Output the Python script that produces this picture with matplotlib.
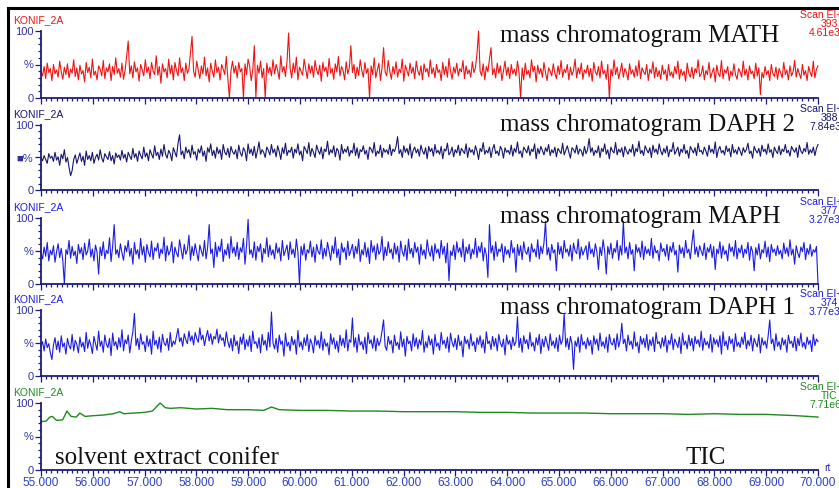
import numpy as np
import matplotlib
matplotlib.use("Agg")
import matplotlib.pyplot as plt
from matplotlib.lines import Line2D
from matplotlib.ticker import MultipleLocator, FixedLocator

# relative intensity (%) per scan (55.000 - 70.000 min)
math_vals = [
    40,33,47,29,52,38,44,26,50,36,42,31,55,39,28,46,35,51,30,43,37,57,32,45,27,
    49,36,41,24,53,38,46,30,58,34,40,27,48,43,33,56,29,45,39,51,26,47,35,60,37,
    44,31,52,28,41,62,85,36,48,30,54,39,45,25,50,42,33,57,38,46,29,53,40,35,63,
    34,47,22,51,39,44,30,58,36,49,27,53,41,33,60,38,45,26,52,37,43,68,92,40,31,
    55,42,29,48,36,61,33,45,24,52,40,31,57,38,46,27,50,43,35,62,29,0,41,55,37,
    48,30,53,39,44,0,51,35,58,47,26,42,78,1,49,37,55,30,44,0,52,38,46,33,57,
    36,50,41,28,63,39,47,32,55,97,44,30,52,38,61,27,46,40,34,58,43,29,51,37,48,
    31,56,42,35,49,25,53,40,46,32,59,37,44,28,51,39,62,33,47,41,27,54,36,45,78,
    38,50,29,46,34,57,41,31,53,37,44,0,48,35,60,30,42,52,26,45,75,39,33,56,40,
    28,47,36,54,31,43,38,58,25,49,41,33,52,37,46,29,55,40,34,48,27,51,39,44,32,
    57,36,45,30,50,38,42,26,53,35,47,31,59,40,28,46,37,52,33,44,39,56,29,48,36,
    42,31,54,38,45,66,100,40,33,51,27,47,39,58,75,35,44,30,52,37,48,26,41,55,34,
    46,29,50,36,43,33,55,38,0,45,27,52,35,41,30,57,39,47,24,49,36,44,31,53,38,
    26,45,40,33,51,37,29,48,35,56,31,43,38,50,27,46,34,41,58,30,45,36,52,28,42,
    37,49,32,44,25,53,39,34,47,30,55,36,41,28,50,0,43,33,57,35,46,29,40,52,31,
    44,38,27,51,36,42,31,48,33,56,29,45,39,35,50,26,43,37,54,30,46,32,41,28,49,
    35,42,26,50,33,39,30,47,36,55,28,43,34,40,25,52,37,31,46,29,44,38,57,32,36,
    48,27,41,35,53,30,38,45,24,49,36,32,56,29,42,37,47,26,40,33,51,35,28,44,39,
    31,55,34,43,27,48,36,40,29,52,33,45,5,38,30,47,35,41,26,50,37,32,46,28,44,
    38,30,53,35,42,27,48,33,39,56,31,44,36,29,50,34,41,26,47,38,32,55,30,43,48]

daph2_vals = [
    50,45,53,47,41,56,49,52,44,58,46,51,38,55,48,62,43,50,35,22,30,47,54,41,49,
    57,44,52,38,60,47,53,45,58,41,50,55,46,62,49,43,56,51,47,59,45,53,40,57,50,
    54,46,61,49,55,43,58,52,47,64,50,56,44,60,53,48,66,51,57,45,62,55,49,68,53,
    58,47,63,52,70,55,49,61,56,45,65,58,51,72,85,54,60,48,66,57,62,50,69,55,59,
    46,63,57,68,52,60,44,65,58,71,53,61,49,66,56,62,47,70,58,54,64,50,67,59,55,
    62,48,69,57,52,65,60,45,71,56,63,53,67,49,60,74,55,62,58,50,66,61,54,70,57,
    63,51,68,59,47,65,56,72,53,61,58,66,49,63,57,71,54,60,45,67,62,56,73,52,64,
    58,50,69,61,55,66,48,63,59,75,54,62,57,68,51,64,60,46,70,56,63,58,67,52,61,
    57,72,53,65,49,62,59,68,55,61,47,66,63,57,73,52,60,56,69,50,64,58,62,55,70,
    53,63,59,67,82,56,62,50,68,58,64,54,71,49,61,66,57,63,52,69,60,55,65,48,67,
    59,64,52,70,57,61,55,67,48,63,60,72,54,58,66,51,62,57,69,53,64,60,56,71,50,
    65,58,62,54,68,60,47,64,59,73,55,61,57,66,50,63,70,56,60,53,67,62,49,65,58,
    61,55,69,52,64,58,74,56,60,50,66,62,57,68,53,63,59,71,48,64,56,67,61,54,65,
    59,70,53,62,57,66,51,64,60,56,72,54,61,68,58,49,65,62,57,69,55,63,60,52,67,
    56,62,79,58,65,53,61,57,68,50,64,59,71,55,62,48,66,60,57,73,54,63,58,65,51,
    67,60,55,63,58,70,52,64,59,75,56,61,53,68,62,57,65,50,69,58,63,55,71,60,54,
    64,57,68,51,62,59,73,55,60,66,52,63,58,70,56,61,49,67,62,57,65,53,72,59,61,
    55,66,60,52,69,58,63,56,74,50,62,67,57,61,54,68,59,64,51,70,57,62,55,66,60,
    53,65,58,62,72,56,60,49,67,61,57,64,52,69,59,63,55,71,58,62,50,66,60,56,68,
    54,63,59,70,57,61,52,67,62,58,65,50,69,60,56,64,59,73,55,62,57,66,53,64,70]

maph_vals = [
    47,38,56,42,63,35,51,44,58,33,49,61,40,54,36,0,52,45,66,39,57,43,50,31,60,
    46,55,37,62,44,50,68,41,53,35,59,48,15,56,43,64,38,51,46,70,34,57,90,45,52,
    40,61,47,36,58,49,66,42,54,30,63,45,52,38,69,44,57,33,60,48,41,65,37,55,50,
    62,39,53,46,71,35,58,44,50,64,32,56,47,41,67,53,38,60,45,52,74,36,57,43,61,
    48,35,59,50,42,66,38,55,90,46,53,25,63,41,57,49,68,34,52,44,61,39,72,47,56,
    42,63,37,55,48,69,30,58,98,45,52,40,64,36,57,49,61,33,54,46,70,41,59,44,52,
    38,62,47,55,35,66,43,51,59,37,64,45,53,40,68,48,0,57,44,61,36,52,47,65,41,
    56,33,60,49,45,67,38,54,42,63,50,36,58,46,71,40,53,29,62,48,55,37,65,43,51,
    60,39,57,46,68,34,52,44,63,41,55,31,66,48,58,37,61,45,50,72,36,56,43,64,47,
    53,38,62,45,57,33,65,49,42,59,36,68,46,54,40,63,48,56,30,60,44,52,38,67,50,
    42,58,35,61,47,53,39,66,45,57,32,62,5,50,43,59,37,64,48,55,41,68,34,56,46,
    60,38,53,45,69,40,57,48,63,35,55,44,10,90,47,58,36,64,42,53,49,61,33,57,45,
    52,40,66,47,55,18,60,43,58,37,64,49,45,56,34,61,48,53,41,67,38,57,46,62,95,
    44,55,36,60,47,52,20,63,45,57,39,66,48,53,42,59,35,62,50,46,68,38,56,44,51,
    58,37,64,46,53,41,61,49,22,56,43,67,50,15,57,45,62,39,54,48,66,36,58,44,95,
    47,56,38,63,45,52,20,60,48,55,41,65,37,57,46,53,43,69,39,58,47,51,35,62,49,
    54,42,60,36,57,48,63,44,51,18,59,46,55,40,66,47,53,38,61,82,45,56,41,58,50,
    43,62,37,55,48,60,40,57,22,53,46,64,39,58,45,51,35,61,49,56,42,66,38,54,47,
    59,40,53,46,63,36,57,49,20,55,44,61,38,52,47,65,41,56,34,60,48,53,43,58,45,
    51,38,62,46,55,42,67,44,53,30,58,47,40,56,49,63,37,54,45,60,42,52,48,57,0]

daph1_vals = [
    45,52,38,56,43,49,35,25,47,58,40,53,36,61,44,50,33,57,46,41,63,38,54,48,35,
    59,44,51,37,66,42,55,47,34,60,49,39,68,45,53,36,62,48,43,57,31,65,46,52,40,
    58,44,70,38,55,49,62,35,53,67,95,46,57,40,64,48,52,37,61,45,56,33,68,47,54,
    41,59,36,63,50,46,57,39,66,44,53,48,60,72,52,58,45,64,55,49,68,53,61,47,66,
    57,51,73,55,62,46,59,69,53,64,48,60,56,71,50,63,54,58,45,67,52,43,57,38,62,
    46,53,34,59,48,64,40,55,45,61,37,68,49,52,42,58,35,63,47,54,39,66,44,97,50,
    41,57,36,62,48,53,30,65,45,51,38,60,47,55,33,69,44,52,40,58,46,63,37,56,49,
    35,61,47,54,42,67,39,56,45,50,32,64,48,58,41,53,36,62,46,57,43,70,38,55,51,
    88,44,58,36,63,47,52,40,59,34,66,49,55,42,61,38,57,46,53,68,85,45,39,60,48,
    54,35,62,46,51,40,67,44,56,30,60,49,53,38,64,45,58,41,55,47,69,36,52,43,61,
    47,56,33,63,45,50,39,66,48,54,42,59,36,65,51,44,57,40,62,46,53,29,60,49,55,
    41,64,46,52,37,58,48,61,43,55,35,67,49,53,40,60,45,57,38,63,50,44,56,32,62,
    48,54,40,59,46,52,90,43,57,36,61,49,55,41,66,45,51,38,58,47,63,34,56,44,60,
    50,39,64,46,53,42,58,37,62,48,55,95,44,57,40,60,49,10,53,45,59,36,63,47,52,
    41,58,46,54,33,61,48,56,39,65,45,52,42,59,36,63,50,47,57,40,64,44,55,80,49,
    56,38,62,47,53,41,67,45,51,35,60,48,57,43,63,39,55,46,59,37,66,49,52,42,58,
    45,61,36,54,48,64,40,56,50,43,59,34,65,47,53,41,62,46,57,38,60,49,55,44,68,
    39,57,47,52,42,63,36,58,48,55,44,61,33,67,46,53,40,60,49,56,37,64,45,51,43,
    59,48,66,41,54,46,62,38,57,50,44,63,35,58,47,53,42,61,85,49,56,39,64,45,52,
    40,58,47,55,36,62,49,53,43,60,38,57,46,65,44,51,41,59,48,54,37,63,46,56,52]

tic_rt = [55.0, 55.1, 55.17, 55.22, 55.3, 55.42, 55.5, 55.58, 55.68, 55.75, 55.85,
          56.0, 56.2, 56.4, 56.52, 56.6, 56.8, 57.0, 57.15, 57.3, 57.4, 57.5,
          57.7, 58.0, 58.3, 58.6, 59.0, 59.3, 59.45, 59.6, 60.0, 60.5, 61.0,
          61.5, 62.0, 62.5, 63.0, 63.5, 64.0, 64.5, 65.0, 65.5, 66.0, 66.5,
          67.0, 67.5, 68.0, 68.5, 69.0, 69.3, 69.6, 70.0]
tic_vals = [72, 73, 79, 80, 74, 75, 88, 80, 79, 85, 80,
            81, 82, 84, 87, 84, 85, 86, 88, 100, 93, 92,
            93, 91, 92, 90, 90, 89, 94, 90, 89, 89, 88,
            88, 87, 87, 87, 86, 86, 85, 85, 85, 84, 84,
            84, 83, 84, 83, 83, 82, 81, 79]

x_ticks = list(range(55, 71))

traces = [
    ("mass chromatogram MATH", math_vals, "#ee1414", "393", "4.61e3"),
    ("mass chromatogram DAPH 2", daph2_vals, "#16166e", "388", "7.84e3"),
    ("mass chromatogram MAPH", maph_vals, "#1c1ce0", "377", "3.27e3"),
    ("mass chromatogram DAPH 1", daph1_vals, "#1c1ce0", "374", "3.77e3"),
    ("TIC", tic_vals, "#1f8a1f", "TIC", "7.71e6"),
]

W, H = 839, 488
panels = [(31, 98), (125, 190), (218, 284), (310, 376), (403, 470)]
title_base = [42, 131, 223, 314, 464]
axisCol = "#1c1c78"
tickCol = "#3030a8"
sans = ["Liberation Sans", "DejaVu Sans"]
serif = "Liberation Serif"


def fx(x):
    return x / W


def fy(y):
    return 1 - y / H


def styleAxis(ax, last, pct):
    ax.set_xlim(55, 70)
    ax.set_ylim(0, 100)
    for s in ["top", "right"]:
        ax.spines[s].set_visible(False)
    for s in ["left", "bottom"]:
        ax.spines[s].set_color(axisCol)
        ax.spines[s].set_linewidth(1.3)
    ax.patch.set_alpha(0)
    ax.xaxis.set_major_locator(FixedLocator(x_ticks))
    ax.xaxis.set_minor_locator(MultipleLocator(0.1))
    ax.yaxis.set_major_locator(FixedLocator([0, 50, 100]))
    ax.yaxis.set_minor_locator(MultipleLocator(10))
    ax.tick_params(which="both", direction="out", color=axisCol, width=0.9)
    ax.tick_params(which="major", length=4)
    ax.tick_params(which="minor", length=2.2)
    ax.set_yticklabels(["0", pct, "100"], color=tickCol, fontsize=8, family=sans)
    ax.tick_params(axis="y", pad=1.5)
    if last:
        ax.set_xticklabels(["%.3f" % v for v in x_ticks],
                           color="#2a40c8", fontsize=8.5, family=sans)
        ax.tick_params(axis="x", pad=1)
    else:
        ax.set_xticklabels([])


fig = plt.figure(figsize=(W / 100, H / 100), dpi=100)

for k, (name, vals, col, mass, scale) in enumerate(traces):
    top, bot = panels[k]
    ax = fig.add_axes([fx(41), fy(bot), fx(818) - fx(41), fy(top) - fy(bot)])
    if k == 4:
        ax.plot(tic_rt, vals, color=col, lw=1.0, clip_on=False)
    else:
        rt = np.linspace(55, 70, len(vals))
        ax.plot(rt, vals, color=col, lw=0.8, clip_on=False)
    styleAxis(ax, k == 4, "\u25a0%" if k == 1 else "%")

    fig.text(fx(13), fy(top - 8), "KONIF_2A", color=col, fontsize=7.5,
             family=sans, va="baseline")
    # scan info block at the right edge, cut by the frame as in the print
    fig.text(fx(800), fy(top - 16), "Scan EI+", color=col, fontsize=7.5,
             family=sans, va="center")
    fig.text(fx(821), fy(top - 7), mass, color=col, fontsize=7.5,
             family=sans, va="center")
    fig.text(fx(809), fy(top + 2), scale, color=col, fontsize=7.5,
             family=sans, va="center")

    if k < 4:
        fig.text(fx(500), fy(title_base[k]), name, fontsize=18,
                 family=serif, va="baseline", color="#111111")

fig.text(fx(55), fy(title_base[4]), "solvent extract conifer", fontsize=18,
         family=serif, va="baseline", color="#111111")
fig.text(fx(685), fy(title_base[4]), "TIC", fontsize=18,
         family=serif, va="baseline", color="#111111")
fig.text(fx(824), fy(468), "rt", color=tickCol, fontsize=7.5, family=sans,
         va="center")

# black frame at top and left
fig.add_artist(Line2D([fx(8), 1], [fy(8), fy(8)], color="black", lw=2.2))
fig.add_artist(Line2D([fx(8), fx(8)], [fy(8), 0], color="black", lw=2.2))

fig.savefig("out.png", dpi=100)
